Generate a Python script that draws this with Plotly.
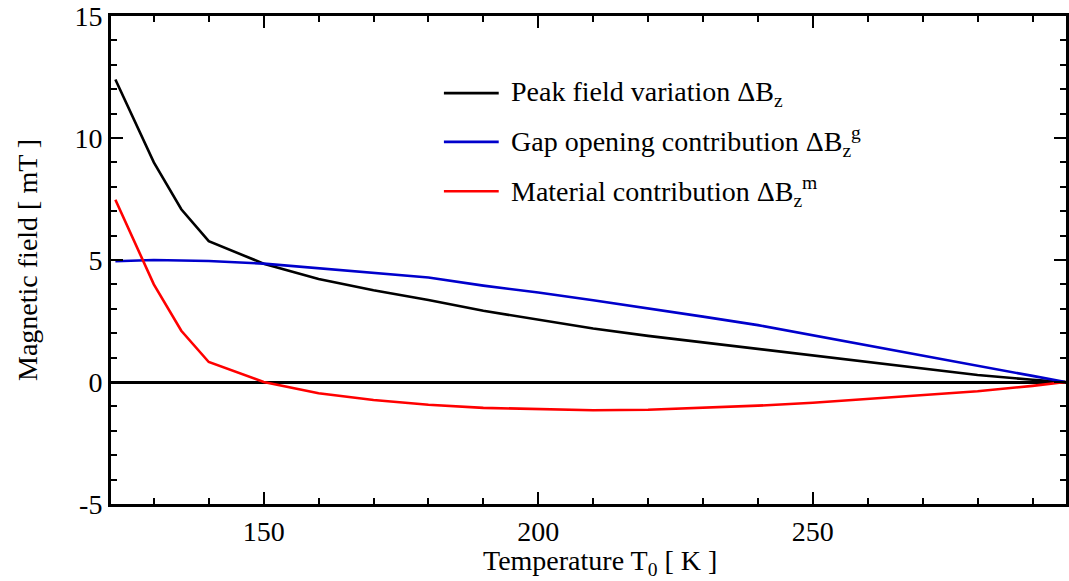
import plotly.graph_objects as go

# Temperature sweep [K]
temperature = [123, 130, 135, 140, 150, 160, 170, 180, 190, 200, 210, 220,
               230, 240, 250, 260, 270, 280, 290, 296]

# Field changes [mT]
peak_variation = [12.4, 9.0, 7.08, 5.77, 4.85, 4.22, 3.76, 3.36, 2.92, 2.56,
                  2.19, 1.89, 1.62, 1.36, 1.08, 0.82, 0.57, 0.29, 0.09, 0.0]
gap_contribution = [4.95, 5.0, 4.98, 4.96, 4.85, 4.67, 4.49, 4.28, 3.95, 3.67,
                    3.35, 3.03, 2.68, 2.33, 1.92, 1.51, 1.09, 0.67, 0.25, 0.0]
material_contribution = [7.47, 4.0, 2.1, 0.82, 0.0, -0.46, -0.74, -0.93, -1.06,
                         -1.12, -1.16, -1.14, -1.06, -0.97, -0.85, -0.70, -0.53,
                         -0.38, -0.16, 0.0]

x_ticks = [150, 200, 250]
y_ticks = [-5, 0, 5, 10, 15]
y_tick_text = ["-5", "0", "5", "10", "15"]

series = [
    ("Peak field variation ΔB<sub>z</sub>", peak_variation, "#000000"),
    ("Gap opening contribution ΔB<sub>z</sub><sup>g</sup>", gap_contribution, "#0000cc"),
    ("Material contribution ΔB<sub>z</sub><sup>m</sup>", material_contribution, "#ff0000"),
]

FONT = "Liberation Serif, Times New Roman, serif"
LINE_W = 2.6

fig = go.Figure()
for name, values, color in series:
    fig.add_trace(go.Scatter(x=temperature, y=values, mode="lines", name=name,
                             line=dict(color=color, width=LINE_W),
                             showlegend=False))

# Hand-placed legend: short line samples with labels to their right
legend_rows_y = [0.842, 0.742, 0.641]
for (name, _, color), yy in zip(series, legend_rows_y):
    fig.add_shape(type="line", xref="paper", yref="paper",
                  x0=0.3486, x1=0.406, y0=yy, y1=yy,
                  line=dict(color=color, width=LINE_W))
    fig.add_annotation(xref="paper", yref="paper", x=0.4165, y=yy,
                       xanchor="left", yanchor="middle", showarrow=False,
                       text=name, font=dict(family=FONT, size=28, color="black"))

axis_common = dict(showline=True, linecolor="black", linewidth=3,
                   mirror="ticks", ticks="inside", tickcolor="black",
                   tickwidth=2.2, ticklen=12, showgrid=False,
                   tickfont=dict(family=FONT, size=28, color="black"))

fig.update_xaxes(range=[122.2, 296.1], tickvals=x_ticks,
                 minor=dict(dtick=10, tick0=0, ticks="inside", ticklen=6,
                            tickwidth=2.2, tickcolor="black", showgrid=False),
                 zeroline=False, **axis_common)
fig.update_yaxes(range=[-5, 15], tickvals=y_ticks, ticktext=y_tick_text,
                 minor=dict(dtick=1, tick0=0, ticks="inside", ticklen=6,
                            tickwidth=2.2, tickcolor="black", showgrid=False),
                 zeroline=True, zerolinecolor="black", zerolinewidth=2.5,
                 **axis_common)

# Axis titles
fig.add_annotation(xref="paper", yref="paper", x=0.5125, y=-0.12,
                   xanchor="center", yanchor="middle", showarrow=False,
                   text="Temperature T<sub>0</sub> [ K ]",
                   font=dict(family=FONT, size=28, color="black"))
fig.add_annotation(xref="paper", yref="paper", x=-0.088, y=0.5,
                   xanchor="center", yanchor="middle", showarrow=False,
                   textangle=-90, text="Magnetic field [ mT ]",
                   font=dict(family=FONT, size=28, color="black"))

fig.update_layout(width=1069, height=581,
                  margin=dict(l=111, r=0, t=16, b=77),
                  paper_bgcolor="white", plot_bgcolor="white")

fig.write_html("out.html")
